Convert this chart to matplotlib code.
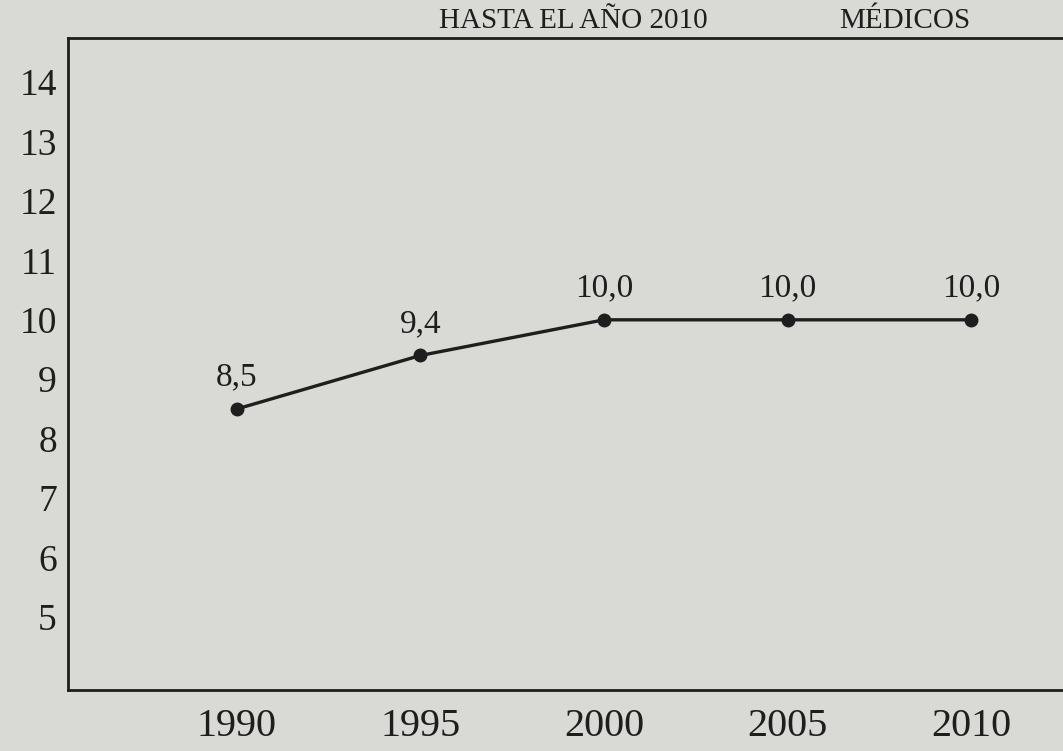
import matplotlib
matplotlib.use("Agg")
import matplotlib.pyplot as plt

years = [1990, 1995, 2000, 2005, 2010]
values = [8.5, 9.4, 10.0, 10.0, 10.0]
value_labels = ["8,5", "9,4", "10,0", "10,0", "10,0"]
y_ticks = [5, 6, 7, 8, 9, 10, 11, 12, 13, 14]
title_left = "HASTA EL AÑO 2010"
title_right = "MÉDICOS"

plt.rcParams['font.family'] = ['Liberation Serif', 'DejaVu Serif']
bg = '#d9d9d6'
ink = '#1e1e1e'

fig = plt.figure(figsize=(10.63, 7.51), dpi=100, facecolor=bg)
ax = fig.add_axes([0.064, 0.0812, 0.96, 0.868])
ax.set_facecolor(bg)

ax.plot(years, values, color=ink, lw=2.4, marker='o', ms=9, mfc=ink, mec=ink)
for x, y, t in zip(years, values, value_labels):
    ax.annotate(t, (x, y), xytext=(0, 12), textcoords='offset points',
                ha='center', va='bottom', fontsize=24, color=ink)

ax.set_xlim(1985.4, 2013.2)
ax.set_ylim(3.77, 14.74)
ax.set_xticks(years)
ax.set_xticklabels([str(y) for y in years], fontsize=29, color=ink)
ax.set_yticks(y_ticks)
ax.set_yticklabels([str(v) for v in y_ticks], fontsize=27, color=ink)
ax.tick_params(length=0, pad=8)
ax.tick_params(axis='x', pad=13)
for s in ax.spines.values():
    s.set_color(ink)
    s.set_linewidth(2)

fig.text(0.666, 0.963, title_left, ha='right', va='baseline', fontsize=21, color=ink)
fig.text(0.913, 0.963, title_right, ha='right', va='baseline', fontsize=21, color=ink)

fig.savefig("out.png", dpi=100, facecolor=bg)
